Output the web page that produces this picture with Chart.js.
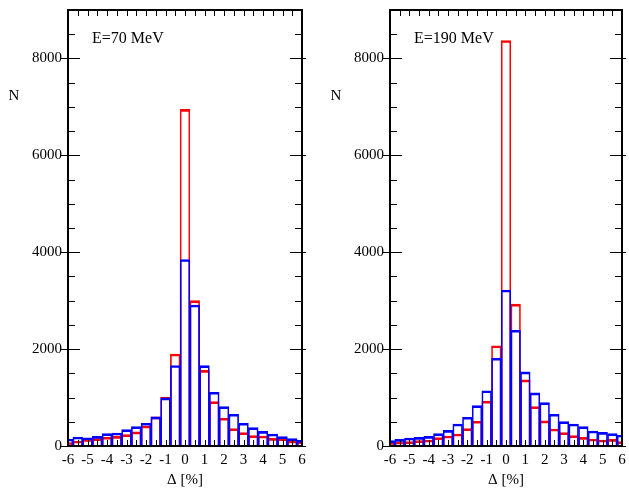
<!DOCTYPE html>
<html>
<head>
<meta charset="utf-8">
<script src="https://cdn.jsdelivr.net/npm/chart.js@4"></script>
<style>
  body { margin: 0; background: #fff; }
  canvas { position: absolute; top: 0; }
</style>
</head>
<body>
<canvas id="left" width="314" height="491" style="left:0"></canvas>
<canvas id="right" width="315" height="491" style="left:314px"></canvas>
<script>
// bin centres (width 0.5)
const centers = [-6, -5.5, -5, -4.5, -4, -3.5, -3, -2.5, -2, -1.5, -1, -0.5, 0,
                 0.5, 1, 1.5, 2, 2.5, 3, 3.5, 4, 4.5, 5, 5.5, 6];
const xTicks = [-6, -5, -4, -3, -2, -1, 0, 1, 2, 3, 4, 5, 6];
const yTicks = [0, 2000, 4000, 6000, 8000];

const red70  = [69, 103, 138, 152, 180, 200, 234, 290, 413, 600, 1010, 1900, 6950,
                3000, 1560, 916, 572, 358, 276, 214, 207, 158, 152, 103, 90];
const blue70 = [145, 186, 170, 200, 255, 269, 338, 400, 469, 600, 992, 1662, 3850,
                2910, 1660, 1109, 813, 655, 469, 379, 303, 248, 193, 152, 117];

const red190  = [69, 83, 90, 110, 124, 172, 207, 248, 358, 510, 925, 2070, 8370,
                 2930, 1364, 813, 517, 351, 276, 214, 179, 145, 124, 138, 90];
const blue190 = [110, 138, 165, 179, 200, 255, 324, 455, 593, 834, 1140, 1815, 3220,
                 2390, 1529, 1095, 896, 655, 503, 455, 400, 310, 282, 255, 227];

const FONT = "'Liberation Serif', 'DejaVu Serif', serif";

function toPoints(vals) {
  return centers.map((c, i) => ({ x: c, y: vals[i] }));
}

// frame, inward ticks and labels
const decor = {
  id: 'decor',
  afterDraw(chart, args, opts) {
    const ctx = chart.ctx;
    const a = chart.chartArea;
    const xs = chart.scales.x, ys = chart.scales.y;
    ctx.save();
    ctx.strokeStyle = '#000';
    ctx.lineWidth = 1;
    // y ticks (both sides)
    for (let v = 0; v <= 9000; v += 500) {
      const y = Math.round(ys.getPixelForValue(v)) + 0.5;
      const major = v % 2000 === 0;
      ctx.beginPath();
      if (major) {
        ctx.moveTo(a.left - 7, y); ctx.lineTo(a.left + 12, y);
        ctx.moveTo(a.right - 12, y); ctx.lineTo(a.right + 4, y);
      } else {
        ctx.moveTo(a.left, y); ctx.lineTo(a.left + 7, y);
        ctx.moveTo(a.right - 7, y); ctx.lineTo(a.right, y);
      }
      ctx.stroke();
    }
    // x ticks top and bottom, every 0.5
    for (let v = -6; v <= 6; v += 0.5) {
      const x = Math.round(xs.getPixelForValue(v)) + 0.5;
      ctx.beginPath();
      ctx.moveTo(x, a.top); ctx.lineTo(x, a.top + 6);
      ctx.moveTo(x, a.bottom); ctx.lineTo(x, a.bottom - 6);
      ctx.stroke();
    }
    // frame
    ctx.lineWidth = 2;
    ctx.strokeRect(a.left, a.top, a.right - a.left, a.bottom - a.top);

    ctx.fillStyle = '#000';
    ctx.font = '16px ' + FONT;
    ctx.textAlign = 'left';
    ctx.textBaseline = 'alphabetic';
    ctx.fillText(opts.label, a.left + 24, 43);
    ctx.font = '15px ' + FONT;
    ctx.textAlign = 'center';
    ctx.fillText('N', a.left - 54, 100);
    ctx.fillText('\u0394 [%]', (a.left + a.right) / 2, 484);
    ctx.restore();
  }
};

function makePanel(id, red, blue, label, padLeft, padRight) {
  new Chart(document.getElementById(id), {
    type: 'bar',
    data: {
      datasets: [
        { data: toPoints(red), borderColor: '#ff0000', backgroundColor: 'rgba(0,0,0,0)',
          borderWidth: { top: 2, left: 1, right: 1, bottom: 0 }, order: 2 },
        { data: toPoints(blue), borderColor: '#0000ff', backgroundColor: 'rgba(0,0,0,0)',
          borderWidth: { top: 2, left: 1, right: 1, bottom: 0 }, order: 1 }
      ]
    },
    options: {
      responsive: false,
      animation: false,
      devicePixelRatio: 1,
      grouped: false,
      barPercentage: 1,
      categoryPercentage: 1,
      layout: { padding: { top: 10, left: padLeft, right: padRight, bottom: 0 } },
      plugins: { legend: { display: false }, tooltip: { enabled: false }, decor: { label: label } },
      scales: {
        x: {
          type: 'linear', min: -6, max: 6, offset: false,
          grid: { display: false, drawTicks: false },
          border: { display: false },
          afterBuildTicks: s => { s.ticks = xTicks.map(v => ({ value: v })); },
          afterFit: s => { s.height = 45; s.paddingLeft = 0; s.paddingRight = 0; },
          ticks: { color: '#000', padding: 5, maxRotation: 0, autoSkip: false,
                   font: { family: FONT, size: 15 } }
        },
        y: {
          min: 0, max: 9000,
          grid: { display: false, drawTicks: false },
          border: { display: false },
          afterBuildTicks: s => { s.ticks = yTicks.map(v => ({ value: v })); },
          afterFit: s => { s.width = 58; s.paddingTop = 0; s.paddingBottom = 0; },
          ticks: { color: '#000', padding: 6, font: { family: FONT, size: 15 },
                   callback: v => String(v) }
        }
      }
    },
    plugins: [decor]
  });
}

makePanel('left', red70, blue70, 'E=70 MeV', 10, 12);
makePanel('right', red190, blue190, 'E=190 MeV', 18, 7);
</script>
</body>
</html>
